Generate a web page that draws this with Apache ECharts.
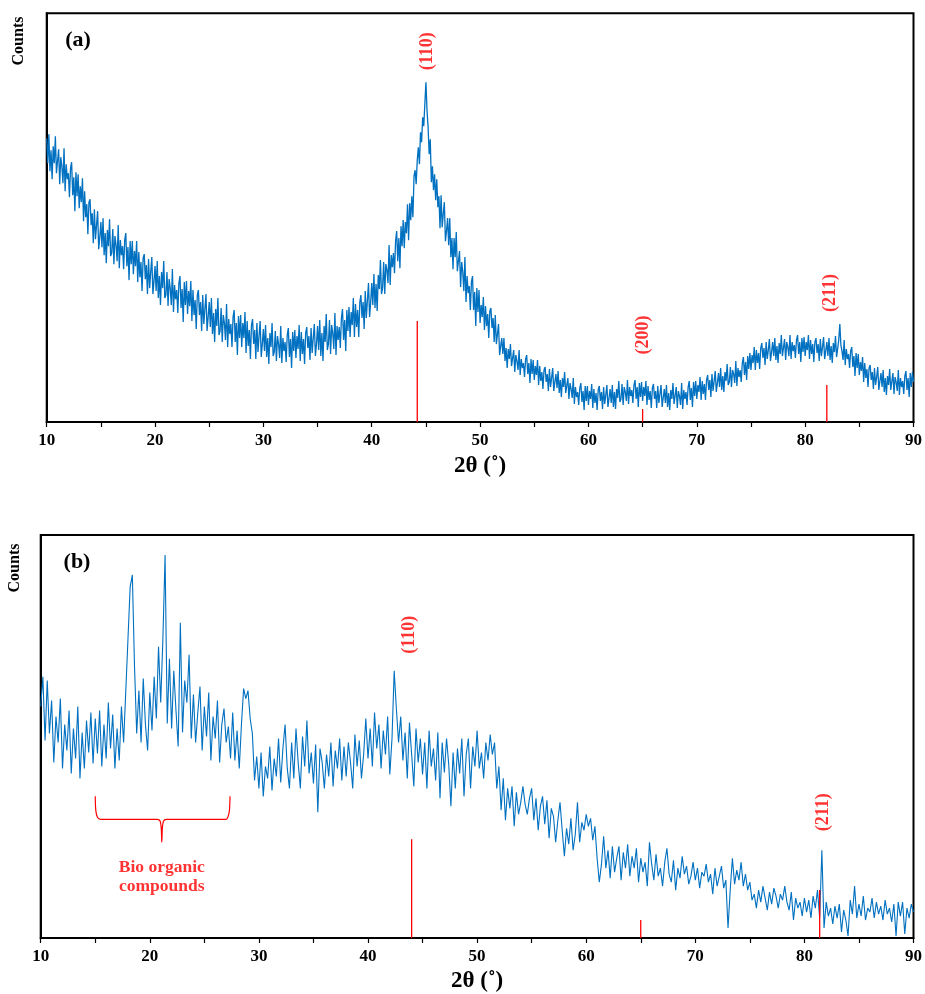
<!DOCTYPE html>
<html>
<head>
<meta charset="utf-8">
<script src="https://cdn.jsdelivr.net/npm/echarts@6/dist/echarts.min.js"></script>
<style>
html,body{margin:0;padding:0;background:#fff;}
#chart{width:925px;height:994px;}
</style>
</head>
<body>
<div id="chart"></div>
<script>
// ---- Data ----
const xTickLabels = [10, 20, 30, 40, 50, 60, 70, 80, 90];

// Panel (a): 2θ scan 10°–90°, 0.1° step, intensity (arbitrary units)
const scanStartA = 10, scanStepA = 0.1;
const intensityA = [
284,259,288,251,272,243,276,259,286,249,
250,273,238,265,256,239,274,231,258,243,
249,225,254,260,227,245,211,250,226,248,
214,236,220,244,201,231,205,218,188,220,
223,197,209,179,213,183,197,211,173,185,
200,175,204,167,189,159,192,176,203,166,
169,193,158,186,177,161,197,154,182,167,
176,153,182,189,156,175,142,181,158,181,
148,171,156,181,140,170,145,160,131,164,
168,143,157,128,163,134,150,165,128,141,
156,131,161,124,146,117,150,134,161,124,
127,150,116,143,134,117,153,110,137,123,
132,109,139,146,114,133,100,140,117,141,
108,131,116,141,101,132,107,122,93,127,
132,107,120,91,127,98,113,128,91,105,
120,95,124,88,109,80,113,96,124,87,
91,114,80,107,99,82,118,75,103,88,
98,75,105,112,80,99,67,106,84,107,
75,99,84,110,69,101,76,92,63,97,
103,78,92,63,99,70,86,101,65,78,
93,71,97,65,84,58,89,75,99,66,
70,91,61,86,78,64,96,59,84,71,
80,60,87,94,65,83,54,90,71,92,
64,86,73,97,61,90,68,83,58,89,
95,74,86,62,94,69,84,98,66,78,
96,72,102,66,89,61,96,80,108,72,
78,102,68,97,89,73,109,67,96,82,
95,74,104,113,82,102,71,112,91,115,
85,110,97,124,85,118,95,112,85,120,
127,104,120,93,131,104,122,139,105,120,
139,117,148,114,138,111,147,133,162,128,
134,160,128,158,152,139,177,137,167,155,
169,149,181,191,161,184,154,196,176,202,
174,200,189,218,182,219,202,226,205,246,
252,238,262,275,258,290,280,305,296,318,
340,312,295,268,283,240,256,232,248,222,
243,215,226,194,227,195,208,220,181,191,
204,177,204,165,184,153,184,165,190,151,
150,171,135,160,150,131,165,120,146,129,
136,112,140,146,112,130,96,134,110,132,
99,117,105,125,92,116,96,108,84,111,
114,94,104,80,107,78,88,98,67,76,
84,68,84,61,74,54,73,63,78,56,
57,72,50,67,61,52,72,47,63,54,
59,45,63,67,48,59,39,63,48,62,
42,56,47,62,37,56,41,50,33,52,
55,40,48,31,53,35,44,54,31,40,
48,34,51,29,42,25,44,35,50,29,
30,44,23,39,33,24,44,18,35,25,
30,17,34,39,20,31,12,36,21,36,
17,31,23,38,14,33,19,29,12,32,
36,21,30,13,35,18,27,37,15,24,
33,19,37,15,30,13,33,24,41,20,
23,38,17,35,30,21,42,18,35,26,
32,19,37,42,23,35,15,39,25,40,
21,35,26,41,17,36,22,31,14,34,
38,23,31,14,36,19,28,37,15,24,
33,19,37,15,29,12,32,23,39,18,
20,35,14,31,26,17,39,13,32,23,
30,17,35,41,22,34,15,40,26,41,
23,37,30,45,22,41,28,38,22,42,
47,32,42,25,48,31,41,51,30,39,
49,35,54,32,46,30,50,41,58,37,
40,55,35,52,48,39,61,36,54,45,
52,40,59,65,47,60,42,66,53,69,
52,67,59,75,52,72,59,69,53,74,
79,64,74,57,80,63,72,83,61,70,
80,66,84,62,76,59,79,68,87,66,
68,83,62,80,75,66,87,63,80,71,
77,64,82,87,68,80,60,84,70,85,
66,80,72,87,63,82,68,78,60,80,
84,69,78,61,83,66,75,85,63,71,
80,66,84,62,76,59,79,70,86,65,
67,82,98,77,71,62,82,57,73,63,
68,54,71,75,55,66,46,69,54,68,
47,60,51,65,40,59,44,53,35,54,
57,42,50,33,54,37,45,55,32,41,
49,35,52,30,44,27,46,37,53,32,
34,49,28,45,40,31,52,27,44,35,
41,28,46,51,32,44,25,49,35,50,
40
];

// Panel (b): 2θ scan 10°–90°, 0.2° step, intensity (arbitrary units)
const scanStartB = 10, scanStepB = 0.2;
const intensityB = [
232,262,198,258,205, 238,176,222,196,240, 170,214,188,228,165, 210,180,232,160,206,
170,218,186,226,175, 220,185,228,172,214, 180,236,190,224,170, 210,178,232,196,248,
300,352,364,272,205, 248,196,260,214,188, 246,208,262,220,292, 236,300,384,215,280,
210,268,228,192,316, 206,258,236,284,200, 244,196,226,252,188, 232,202,246,178,222,
200,238,176,214,230, 196,212,180,226,178, 208,170,214,250,240, 248,220,205,158,182,
150,186,142,172,160, 192,148,180,162,200, 156,190,214,170,150, 196,160,210,176,150,
202,172,218,165,186, 155,194,126,190,176, 150,184,162,196,152, 188,170,200,158,192,
162,196,176,150,204, 172,198,160,184,220, 180,210,172,226,190, 214,170,208,184,222,
164,200,268,230,196, 222,178,206,160,216, 184,152,210,176,200, 164,196,150,208,172,
190,158,206,140,196, 166,200,174,132,186, 150,190,165,200,142, 184,200,150,192,172,
208,170,186,160,196, 178,204,184,196,150, 172,128,160,118,150, 130,152,112,146,124,
136,152,134,124,140, 150,118,140,108,132, 142,114,138,100,130, 122,96,118,136,108,
82,110,94,120,88, 104,136,96,116,108, 124,112,120,98,112, 80,56,74,102,70,
88,60,92,66,80, 92,58,86,70,94, 62,82,70,90,56, 80,66,76,52,96,
74,58,84,62,70, 52,76,90,64,56, 78,48,70,60,82, 64,72,54,62,76,
58,70,50,66,62, 74,56,64,44,70, 52,62,72,50,58, 10,48,80,54,68,
58,76,52,64,48, 56,38,44,30,48, 36,52,40,28,46, 34,50,42,30,44,
38,52,36,28,46, 18,40,30,36,22, 40,26,38,20,42, 30,48,20,88,10,
36,22,30,14,32, 20,34,6,28,18, 2,38,24,52,20, 34,22,42,18,30,
26,40,20,36,24, 32,18,38,24,30, 16,34,2,36,22, 36,4,30,20,34,
26
];

// Reference (JCPDS) stick positions and heights
const refPosA = [44.2, 65.0, 82.0];
const refHeightA = [101, 13, 37];
const refPosB = [44.0, 65.0, 81.4];
const refHeightB = [99, 18, 48];

// Peak labels: [2θ, height, text]
const peakLabelsA = [[45.1, 371, '(110)'], [65.1, 87, '(200)'], [82.3, 129, '(211)']];
const peakLabelsB = [[43.8, 304, '(110)'], [81.7, 126, '(211)']];

// Brace under bio-organic region (2θ, height)
const braceB = [[15.0,142],[15.05,128],[15.2,121],[15.5,119],[20.7,119],[20.95,117],[21.05,110],[21.1,96],
                [21.15,110],[21.25,117],[21.5,119],[27.0,119],[27.15,121],[27.3,128],[27.35,142]];
const braceLabelB = [21.1, 61, 'Bio organic\ncompounds'];

// ---- Build ----
function toPairs(arr, start, step) {
  return arr.map((v, i) => [+(start + step * i).toFixed(2), v]);
}
const SERIF = '"Liberation Serif","Times New Roman",serif';
const BLUE = '#0070C0';
const RED = '#ff0000';

function xAxisCfg(gridIndex, nameGap) {
  return {
    type: 'value', gridIndex: gridIndex, min: 10, max: 90, interval: 5,
    name: '2θ (˚)', nameLocation: 'middle', nameGap: nameGap,
    nameTextStyle: { fontFamily: SERIF, fontWeight: 'bold', fontSize: 23, color: '#000' },
    axisLine: { show: true, onZero: false, lineStyle: { color: '#000', width: 2 } },
    axisTick: { show: true, inside: false, length: 5, lineStyle: { color: '#000', width: 1.2 } },
    axisLabel: {
      show: true, margin: 10, fontFamily: SERIF, fontWeight: 'bold', fontSize: 17, color: '#000',
      formatter: function (v) { return xTickLabels.indexOf(v) >= 0 ? String(v) : ''; }
    },
    splitLine: { show: false }
  };
}
function yAxisCfg(gridIndex, max) {
  return {
    type: 'value', gridIndex: gridIndex, min: 0, max: max,
    axisLine: { show: true, lineStyle: { color: '#000', width: 2 } },
    axisTick: { show: false }, axisLabel: { show: false }, splitLine: { show: false }
  };
}

const series = [];
series.push({
  type: 'line', xAxisIndex: 0, yAxisIndex: 0, data: toPairs(intensityA, scanStartA, scanStepA),
  showSymbol: false, lineStyle: { color: BLUE, width: 1.3 }, z: 3
});
series.push({
  type: 'line', xAxisIndex: 1, yAxisIndex: 1, data: toPairs(intensityB, scanStartB, scanStepB),
  showSymbol: false, lineStyle: { color: BLUE, width: 1.1 }, z: 3
});
refPosA.forEach((p, i) => series.push({
  type: 'line', xAxisIndex: 0, yAxisIndex: 0, data: [[p, 0], [p, refHeightA[i]]],
  showSymbol: false, lineStyle: { color: RED, width: 1.3 }, z: 4
}));
refPosB.forEach((p, i) => series.push({
  type: 'line', xAxisIndex: 1, yAxisIndex: 1, data: [[p, 0], [p, refHeightB[i]]],
  showSymbol: false, lineStyle: { color: RED, width: 1.3 }, z: 4
}));
function labelSeries(xi, labels) {
  return {
    type: 'scatter', xAxisIndex: xi, yAxisIndex: xi, symbolSize: 1,
    itemStyle: { color: 'rgba(0,0,0,0)' }, z: 5,
    data: labels.map(l => ({ value: [l[0], l[1]], name: l[2] })),
    label: {
      show: true, position: 'inside', rotate: 90, formatter: '{b}',
      fontFamily: SERIF, fontWeight: 'bold', fontSize: 18, color: RED
    }
  };
}
series.push(labelSeries(0, peakLabelsA));
series.push(labelSeries(1, peakLabelsB));
series.push({
  type: 'line', xAxisIndex: 1, yAxisIndex: 1, data: braceB, smooth: 0.3,
  showSymbol: false, lineStyle: { color: RED, width: 1.2 }, z: 4
});
series.push({
  type: 'scatter', xAxisIndex: 1, yAxisIndex: 1, symbolSize: 1,
  itemStyle: { color: 'rgba(0,0,0,0)' }, z: 5,
  data: [{ value: [braceLabelB[0], braceLabelB[1]], name: braceLabelB[2] }],
  label: {
    show: true, position: 'inside', formatter: '{b}', align: 'center', lineHeight: 19,
    fontFamily: SERIF, fontWeight: 'bold', fontSize: 17.5, color: RED
  }
});

const option = {
  animation: false,
  backgroundColor: '#fff',
  grid: [
    { left: 46.7, top: 13.3, width: 867.3, height: 408.7, show: true, borderColor: '#000', borderWidth: 2, backgroundColor: 'transparent' },
    { left: 40.7, top: 535, width: 876.6, height: 404, show: true, borderColor: '#000', borderWidth: 2, backgroundColor: 'transparent' }
  ],
  xAxis: [xAxisCfg(0, 33), xAxisCfg(1, 32)],
  yAxis: [yAxisCfg(0, 409), yAxisCfg(1, 404)],
  series: series,
  graphic: [
    { type: 'text', x: 19, y: 41, rotation: Math.PI / 2,
      style: { text: 'Counts', font: 'bold 16px ' + SERIF, fill: '#000', textAlign: 'center', textVerticalAlign: 'middle' } },
    { type: 'text', x: 78, y: 40,
      style: { text: '(a)', font: 'bold 22px ' + SERIF, fill: '#000', textAlign: 'center', textVerticalAlign: 'middle' } },
    { type: 'text', x: 15, y: 568, rotation: Math.PI / 2,
      style: { text: 'Counts', font: 'bold 16px ' + SERIF, fill: '#000', textAlign: 'center', textVerticalAlign: 'middle' } },
    { type: 'text', x: 77, y: 562,
      style: { text: '(b)', font: 'bold 22px ' + SERIF, fill: '#000', textAlign: 'center', textVerticalAlign: 'middle' } }
  ]
};

const chart = echarts.init(document.getElementById('chart'), null, { renderer: 'canvas' });
chart.setOption(option);
</script>
</body>
</html>
